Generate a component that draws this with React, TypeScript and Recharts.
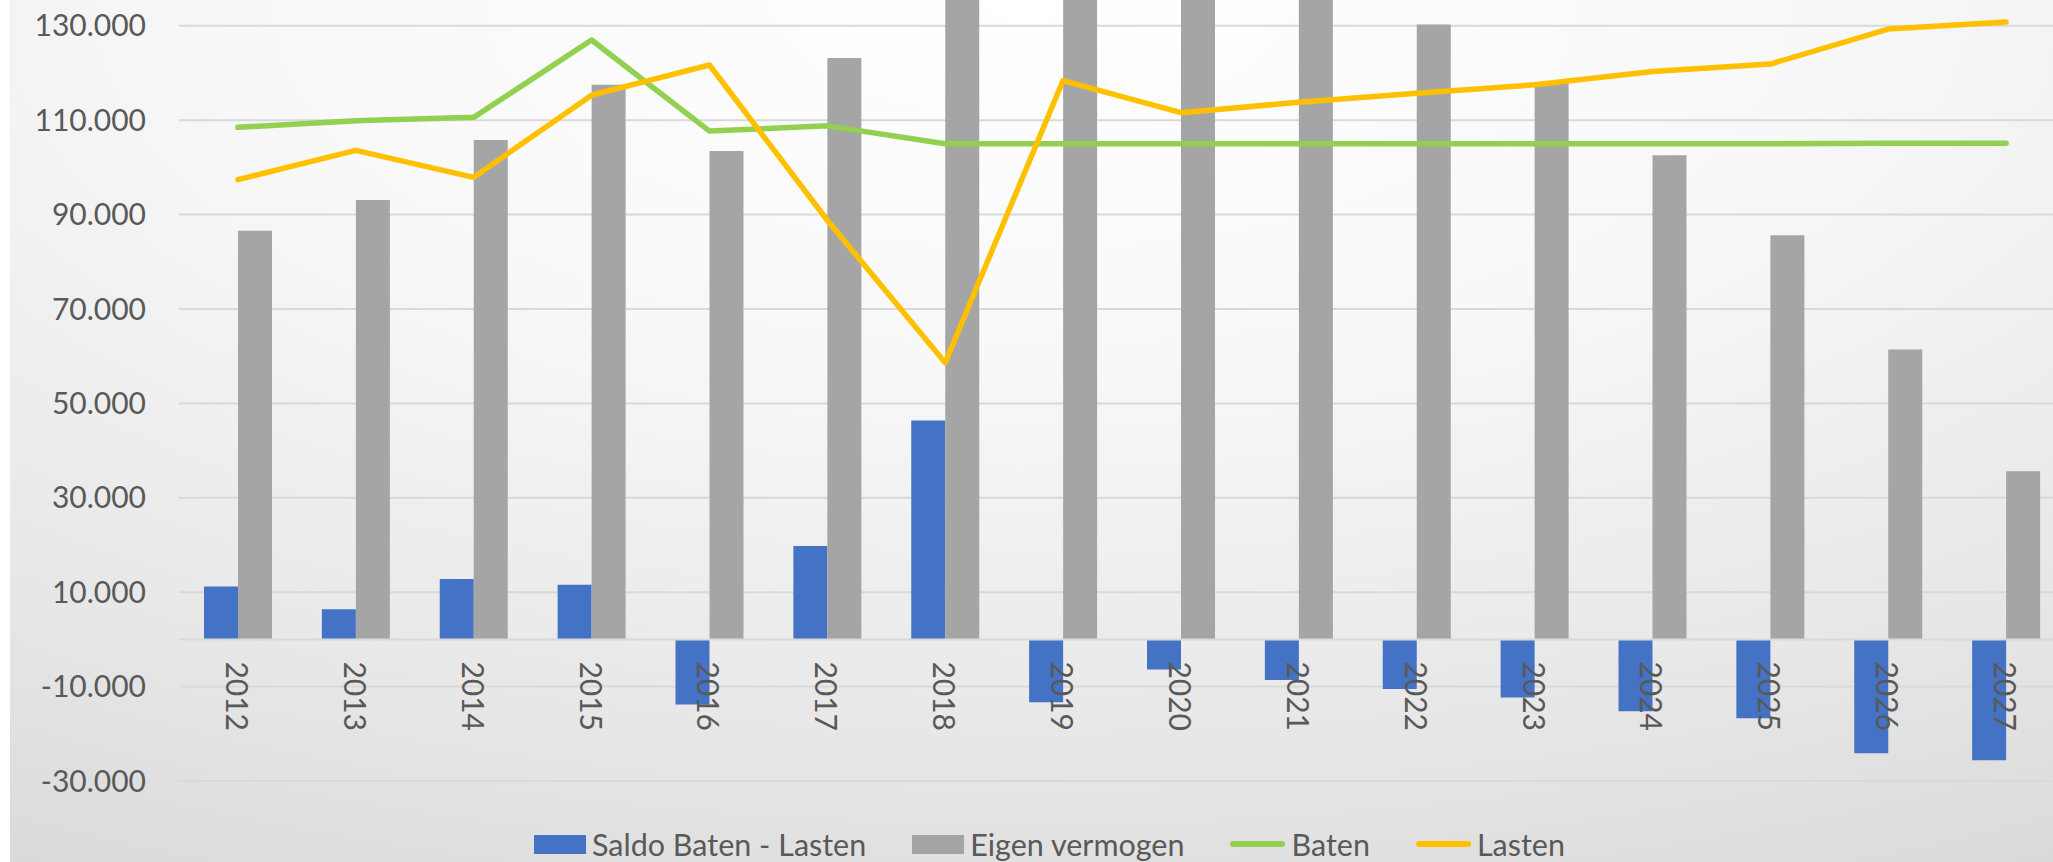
import React from "react";
import {
  ComposedChart, Bar, Line, XAxis, YAxis, CartesianGrid, Legend, ReferenceLine,
} from "recharts";

const years = ["2012", "2013", "2014", "2015", "2016", "2017", "2018", "2019", "2020", "2021", "2022", "2023", "2024", "2025", "2026", "2027"];
const saldo = [11200, 6400, 12800, 11600, -13800, 19800, 46400, -13300, -6400, -8600, -10500, -12300, -15200, -16700, -24100, -25600];
const eigenVermogen = [86600, 93100, 105800, 117500, 103500, 123200, 169500, 156000, 149500, 141000, 130300, 118000, 102600, 85600, 61400, 35600];
const baten = [108500, 109900, 110600, 127000, 107700, 108800, 105000, 105000, 105000, 105000, 105000, 105000, 105000, 105000, 105100, 105100];
const lasten = [97400, 103600, 97900, 115300, 121700, 88800, 58600, 118400, 111600, 113800, 115700, 117500, 120300, 121900, 129300, 130800];
const yTicks = [-30000, -10000, 10000, 30000, 50000, 70000, 90000, 110000, 130000];
const seriesNames = ["Saldo Baten - Lasten", "Eigen vermogen", "Baten", "Lasten"];

const data = years.map((year, i) => ({
  year,
  saldo: saldo[i],
  eigen: eigenVermogen[i],
  baten: baten[i],
  lasten: lasten[i],
}));

const FONT = "Lato, 'Open Sans', sans-serif";
const TEXT = "#595959";
const Y_MIN = -30000;
const Y_MAX = 170000;
const PLOT_H = 944;
const CHART_TOP = -163;

// dutch thousands separator: 130.000
const fmt = (v: number) => {
  const s = Math.abs(v).toString().replace(/\B(?=(\d{3})+(?!\d))/g, ".");
  return (v < 0 ? "-" : "") + s;
};

// category labels sit just under the zero line, rotated
function YearTick({ x, y, payload }: any) {
  const zeroFromBottom = (PLOT_H * (0 - Y_MIN)) / (Y_MAX - Y_MIN);
  const ty = y - zeroFromBottom + 22;
  return (
    <text
      x={x} y={ty}
      transform={`rotate(90, ${x}, ${ty})`}
      textAnchor="start" dominantBaseline="central"
      fontFamily={FONT} fontSize={30} fill={TEXT}
    >
      {payload.value}
    </text>
  );
}

function LegendContent(props: any) {
  const items = [...(props.payload ?? [])].sort(
    (a: any, b: any) => seriesNames.indexOf(a.value) - seriesNames.indexOf(b.value)
  );
  return (
    <div style={{ display: "flex", alignItems: "center", height: 36, fontFamily: FONT, fontSize: 30.5, color: TEXT, whiteSpace: "nowrap" }}>
      {items.map((it: any, i: number) => (
        <div key={i} style={{ display: "flex", alignItems: "center", marginRight: 46 }}>
          {it.type === "line" ? (
            <span style={{ display: "inline-block", width: 55, height: 6, borderRadius: 3, background: it.color }} />
          ) : (
            <span style={{ display: "inline-block", width: 52, height: 19, background: it.color }} />
          )}
          <span style={{ marginLeft: 6 }}>{it.value}</span>
        </div>
      ))}
    </div>
  );
}

export default function App() {
  return (
    <div style={{ position: "fixed", left: 0, top: 0, width: 2053, height: 862, overflow: "hidden", background: "#fff" }}>
      <div
        style={{
          position: "absolute", left: 10, top: 0, right: 0, bottom: 0,
          background: "radial-gradient(130% 140% at 50% 0%, #ffffff 0%, #f8f8f8 30%, #e8e8e8 60%, #d4d4d4 90%)",
        }}
      />
      <div style={{ position: "absolute", left: 0, top: CHART_TOP }}>
        <ComposedChart
          width={2065}
          height={1045}
          data={data}
          margin={{ top: 0, right: 0, bottom: 100, left: 0 }}
          barGap={0}
        >
          <CartesianGrid horizontal vertical={false} stroke="#d9d9d9" strokeWidth={2} />
          <XAxis
            dataKey="year"
            axisLine={false}
            tickLine={false}
            tickSize={0}
            tickMargin={0}
            interval={0}
            height={1}
            tick={<YearTick />}
          />
          <YAxis
            domain={[Y_MIN, Y_MAX]}
            ticks={yTicks}
            width={179}
            axisLine={false}
            tickLine={false}
            tickSize={0}
            tickMargin={33}
            tickFormatter={fmt}
            tick={{ fontFamily: FONT, fontSize: 30, fill: TEXT }}
          />
          <ReferenceLine y={0} stroke="#d9d9d9" strokeWidth={2} />
          <Bar dataKey="saldo" name="Saldo Baten - Lasten" fill="#4472C4" barSize={34} isAnimationActive={false} />
          <Bar dataKey="eigen" name="Eigen vermogen" fill="#A5A5A5" barSize={34} isAnimationActive={false} />
          <Line
            dataKey="baten" name="Baten" type="linear" stroke="#92D050" strokeWidth={5.5}
            strokeLinecap="round" strokeLinejoin="round" dot={false} activeDot={false}
            isAnimationActive={false}
          />
          <Line
            dataKey="lasten" name="Lasten" type="linear" stroke="#FFC000" strokeWidth={5.5}
            strokeLinecap="round" strokeLinejoin="round" dot={false} activeDot={false}
            isAnimationActive={false}
          />
          <Legend
            layout="horizontal"
            verticalAlign="middle"
            align="center"
            content={<LegendContent />}
            wrapperStyle={{ left: 534, top: 826 - CHART_TOP, width: "auto" }}
          />
        </ComposedChart>
      </div>
    </div>
  );
}
